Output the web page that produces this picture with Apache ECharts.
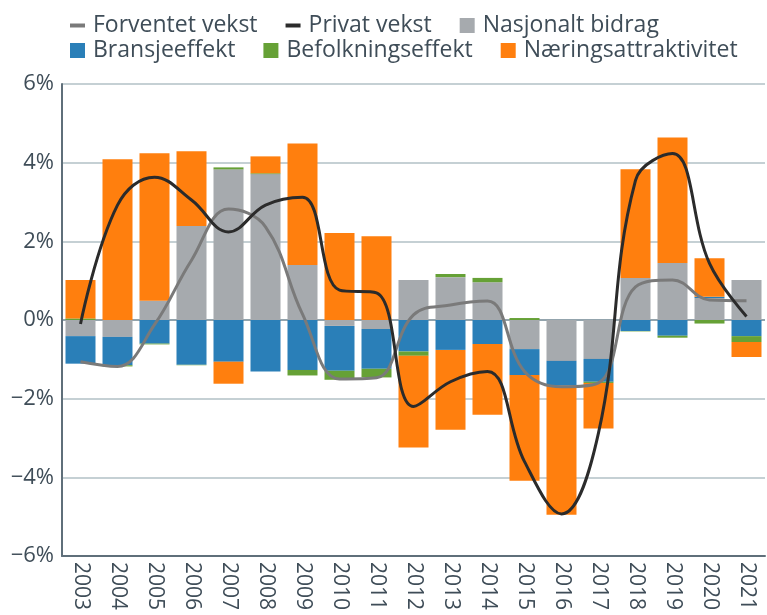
<!DOCTYPE html>
<html>
<head>
<meta charset="utf-8">
<script src="https://cdn.jsdelivr.net/npm/echarts@6/dist/echarts.min.js"></script>
<style>
html,body{margin:0;padding:0;background:#fff;}
#chart{width:767px;height:615px;}
</style>
</head>
<body>
<div id="chart"></div>
<script>
var years = ['2003','2004','2005','2006','2007','2008','2009','2010','2011','2012','2013','2014','2015','2016','2017','2018','2019','2020','2021'];
var nasjonalt = [-0.41, -0.43, 0.49, 2.39, 3.83, 3.71, 1.40, -0.15, -0.23, 1.02, 1.09, 0.96, -0.74, -1.04, -0.99, 1.07, 1.45, 0.56, 1.02];
var bransje = [-0.70, -0.72, -0.60, -1.14, -1.06, -1.31, -1.27, -1.14, -1.01, -0.80, -0.76, -0.61, -0.66, -0.63, -0.58, -0.28, -0.40, 0.03, -0.41];
var befolkning = [0.04, -0.03, -0.02, -0.01, 0.05, 0.02, -0.14, -0.23, -0.22, -0.11, 0.08, 0.11, 0.05, 0, -0.03, -0.01, -0.05, -0.09, -0.15];
var naering = [0.98, 4.09, 3.75, 1.90, -0.56, 0.43, 3.09, 2.21, 2.13, -2.33, -2.03, -1.80, -2.69, -3.28, -1.16, 2.76, 3.19, 0.98, -0.38];
var forventet = [-1.06, -1.18, -0.12, 1.52, 2.82, 2.37, 0.15, -1.50, -1.47, 0.13, 0.38, 0.48, -1.31, -1.70, -1.60, 0.84, 1.02, 0.51, 0.49];
var privat = [-0.10, 2.92, 3.63, 3.05, 2.24, 2.92, 3.12, 0.76, 0.69, -2.20, -1.57, -1.31, -3.60, -4.93, -2.87, 3.55, 4.23, 1.44, 0.09];
var yTicks = {min: -6, max: 6, interval: 2};

var FONT = '"Open Sans", "Noto Sans", sans-serif';
var TXT = '#3f4d58';
var C = {orange:'#ff7f0e', blue:'#2a7fb8', green:'#66a136', gray:'#a6aaae', gline:'#7a7a7a', bline:'#2b2b2b'};
var LINE_ICON = 'path://M0,0M0,5.5L15,5.5L15,9.5L0,9.5Z M15,15';

var chart = echarts.init(document.getElementById('chart'), null, {renderer:'canvas'});
var legendBase = {
  left: 70, itemWidth: 15, itemHeight: 15, itemGap: 28, padding: 0,
  textStyle: {fontFamily: FONT, fontSize: 23, color: TXT, padding: [0,0,0,3]},
  selectedMode: false
};
function barSeries(name, data, color) {
  return {name: name, type: 'bar', stack: 'total', data: data, barWidth: 30,
    itemStyle: {color: color}, emphasis: {disabled: true}};
}
var option = {
  animation: false,
  backgroundColor: '#fff',
  legend: [
    Object.assign({}, legendBase, {top: 14, data: [
      {name: 'Forventet vekst', icon: LINE_ICON},
      {name: 'Privat vekst', icon: LINE_ICON},
      {name: 'Nasjonalt bidrag', icon: 'rect'}]}),
    Object.assign({}, legendBase, {top: 39, data: [
      {name: 'Bransjeeffekt', icon: 'rect'},
      {name: 'Befolkningseffekt', icon: 'rect'},
      {name: 'Næringsattraktivitet', icon: 'rect'}]})
  ],
  grid: {left: 62, right: 2, top: 84, bottom: 59, containLabel: false},
  xAxis: {
    type: 'category', data: years, position: 'bottom',
    axisLine: {onZero: false, lineStyle: {color: '#5f6f7a', width: 2}},
    axisTick: {show: false},
    axisLabel: {rotate: -90, fontFamily: FONT, fontSize: 21, color: TXT, margin: 6, interval: 0}
  },
  yAxis: {
    type: 'value', min: yTicks.min, max: yTicks.max, interval: yTicks.interval,
    axisLine: {show: true, lineStyle: {color: '#5f6f7a', width: 2}},
    axisTick: {show: false},
    axisLabel: {fontFamily: FONT, fontSize: 22, color: TXT, margin: 8,
      formatter: function(v){ return (v < 0 ? '\u2212' + Math.abs(v) : v) + '%'; }},
    splitLine: {lineStyle: {color: ['#c5d0d4','#c5d0d4','#c5d0d4','#93a4ad','#c5d0d4','#c5d0d4','#c5d0d4'], width: 2}}
  },
  series: [
    barSeries('Nasjonalt bidrag', nasjonalt, C.gray),
    barSeries('Bransjeeffekt', bransje, C.blue),
    barSeries('Befolkningseffekt', befolkning, C.green),
    barSeries('Næringsattraktivitet', naering, C.orange),
    {name: 'Forventet vekst', type: 'line', data: forventet, smooth: 0.4, symbol: 'none',
      lineStyle: {color: C.gline, width: 3}, itemStyle: {color: C.gline}, z: 5},
    {name: 'Privat vekst', type: 'line', data: privat, smooth: 0.4, symbol: 'none',
      lineStyle: {color: C.bline, width: 3}, itemStyle: {color: C.bline}, z: 6}
  ]
};
chart.setOption(option);
</script>
</body>
</html>
